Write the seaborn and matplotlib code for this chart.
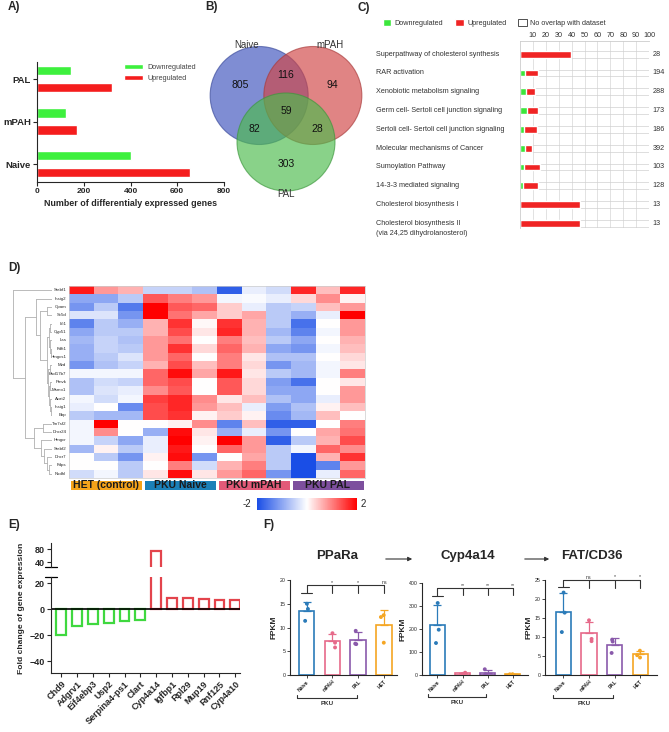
import numpy as np
import pandas as pd
import matplotlib
matplotlib.use("Agg")
import matplotlib.pyplot as plt
import seaborn as sns
from matplotlib import transforms
from matplotlib.colors import LinearSegmentedColormap, ListedColormap
from matplotlib.patches import Patch, Circle, FancyArrowPatch

W, H = 669, 732

# ---- A) number of DEGs ----
deg_groups = ["PAL", "mPAH", "Naive"]
deg_down = [146, 124, 402]
deg_up = [321, 169, 655]

# ---- B) venn ----
venn_sets = ["Naive", "mPAH", "PAL"]
venn_only = [805, 94, 303]
venn_pair_names = ["Naive&mPAH", "Naive&PAL", "mPAH&PAL"]
venn_pairs = [116, 82, 28]
venn_all = 59

# ---- C) IPA pathways ----
pathways = [
    "Superpathway of cholesterol synthesis",
    "RAR activation",
    "Xenobiotic metabolism signaling",
    "Germ cell- Sertoli cell junction signaling",
    "Sertoli cell- Sertoli cell junction signaling",
    "Molecular mechanisms of Cancer",
    "Sumoylation Pathway",
    "14-3-3 mediated signaling",
    "Cholesterol biosynthesis I",
    "Cholesterol biosynthesis II\n(via 24,25 dihydrolanosterol)",
]
path_down = [0, 4.1, 4.7, 5.2, 2.8, 3.9, 3.1, 2.3, 0, 0]
path_up = [39.5, 9.9, 6.9, 8.5, 10.4, 5.4, 12.4, 11.7, 46.5, 46.5]
path_total = [28, 194, 288, 173, 186, 392, 103, 128, 13, 13]

# ---- D) heatmap ----
hm_genes = ["Srebf1", "Insig2", "Gpam", "Sc5d", "Idi1", "Cyp51", "Lss", "Fdft1",
            "Hmgcs1", "Mvd", "Hsd17b7", "Pmvk", "Msmo1", "Acat2", "Insig1", "Ebp",
            "Tm7sf2", "Dhcr24", "Hmgcr", "Srebf2", "Dhcr7", "Fdps", "Nsdhl"]
hm_samples = ["HET1", "HET2", "HET3", "Naive1", "Naive2", "Naive3",
              "mPAH1", "mPAH2", "mPAH3", "PAL1", "PAL2", "PAL3"]
hm_values = [
    [1.8, 0.8, 0.6, -0.5, -0.5, -0.7, -1.8, -0.2, -0.4, 1.7, 0.5, 1.7],
    [-1.0, -1.0, -0.6, 1.3, 1.0, 0.8, -0.1, -0.05, -0.2, 0.3, 0.9, 0.1],
    [-1.2, -0.6, -1.5, 2.0, 1.3, 1.2, 0.4, -0.2, -0.6, -0.5, 0.5, 0.8],
    [-0.3, -0.3, -1.2, 2.0, 1.1, 0.7, 0.4, 0.7, -0.6, -0.9, -0.2, 2.0],
    [-1.4, -0.6, -0.9, 0.6, 1.6, 0.05, 1.6, 0.6, -0.6, -1.6, 0.0, 0.8],
    [-1.0, -0.6, -0.6, 0.6, 1.4, 0.2, 1.7, 0.6, -0.8, -1.4, -0.1, 0.8],
    [-0.8, -0.5, -0.7, 0.8, 1.1, 0.0, 1.0, 0.5, -0.6, -1.0, 0.0, 0.6],
    [-0.9, -0.5, -0.6, 0.8, 1.6, 0.3, 1.2, 0.6, -1.0, -1.2, -0.1, 0.5],
    [-0.9, -0.6, -0.3, 0.8, 1.2, 0.0, 1.0, 0.2, -0.7, -0.7, 0.0, 0.3],
    [-1.2, -0.7, -0.5, 0.6, 1.4, 0.5, 1.0, 0.3, -1.2, -0.8, -0.1, 0.2],
    [-0.1, -0.1, -0.1, 1.2, 1.9, 0.7, 1.8, 0.2, -0.6, -0.8, -0.1, 1.0],
    [-0.7, -0.4, -0.5, 1.2, 1.4, 0.0, 1.3, 0.3, -1.1, -1.6, 0.0, 0.2],
    [-0.7, -0.3, -0.2, 0.9, 1.3, 0.0, 1.3, 0.3, -1.0, -1.0, 0.0, 0.8],
    [-0.1, -0.4, -0.1, 1.5, 1.7, 0.9, 0.2, 0.5, -0.7, -1.0, -0.2, 0.8],
    [-0.2, 0.0, -1.3, 1.4, 1.7, 0.8, 0.5, -0.2, -1.1, -0.7, 0.1, 0.5],
    [-0.6, -0.8, -0.8, 1.4, 1.6, 0.1, 0.4, 0.1, -1.3, -0.8, 0.5, 0.0],
    [-0.1, 2.0, 0.0, 0.0, 0.1, 0.9, -1.4, 0.5, -1.8, -1.8, 0.0, 1.0],
    [-0.1, 0.9, 0.0, -0.9, 1.9, 0.2, -0.9, -0.2, -1.2, 0.0, 0.7, 1.1],
    [-0.1, -0.5, -1.0, -0.2, 2.0, 0.1, 2.0, 0.8, -1.8, -0.6, 0.6, 1.4],
    [-0.8, 0.1, -0.6, -0.2, 1.8, 0.0, 1.2, 0.8, -0.6, -0.1, 1.2, 0.9],
    [0.0, -0.6, -1.2, 0.1, 1.9, -1.2, 0.0, 0.7, -0.6, -2.0, 0.6, 1.6],
    [0.0, 0.0, -0.6, 0.0, 1.0, -0.4, 0.6, 1.0, -0.6, -2.0, -1.4, 0.8],
    [-0.4, -0.1, -0.6, 0.2, 1.9, 0.2, 0.8, 1.2, -1.2, -2.0, -0.2, 1.2],
]
# dendrogram: (height, left, right), leaves are row indices
hm_upper = (0.42, 1, (0.30, (0.14, 2, 3),
                      (0.12, (0.08, (0.05, 4, 5), (0.05, 6, (0.03, 7, 8))),
                       (0.09, (0.06, 9, 10), (0.07, (0.04, 11, 12), (0.05, 13, (0.03, 14, 15)))))))
hm_lower = (0.45, (0.22, 16, 17), (0.28, 18, (0.2, 19, (0.12, 20, (0.08, 21, 22)))))
hm_tree = (1.0, 0, (0.68, hm_upper, hm_lower))
hm_group_labels = ["HET (control)", "PKU Naive", "PKU mPAH", "PKU PAL"]
hm_group_colors = ["#f5a31a", "#1b80b8", "#e35a78", "#7d4f9e"]

# ---- E) fold change ----
fc_genes = ["Chd9", "Adgrv1", "Eif4ebp3", "Usp2", "Serpina4-ps1", "Clart",
            "Cyp4a14", "Igfbp1", "Rpl29", "Mup19", "Rnf125", "Cyp4a10"]
fc_values = [-20, -13.1, -11.5, -10.8, -9.2, -8.5, 74.8, 9.0, 8.7, 8.1, 7.6, 7.6]

# ---- F) FPKM ----
f_groups = ["Naive", "mPAH", "PAL", "HET"]
f_colors = ["#2b7bb9", "#e66a8a", "#8a5aab", "#f5a623"]
ppara_fpkm = [[15.0, 13.9, 11.4], [8.8, 6.8, 5.8], [9.3, 6.5, 6.6], [12.6, 12.2, 6.8]]
cyp4a14_fpkm = [[313, 197, 139], [5, 8, 10], [2, 3, 25], [2, 3, 3]]
cd36_fpkm = [[21.7, 16.4, 11.3], [14.4, 8.9, 9.5], [9.3, 8.8, 5.8], [6.4, 5.2, 4.6]]
ppara_sig = ["*", "*", "ns"]
cyp4a14_sig = ["**", "**", "**"]
cd36_sig = ["ns", "*", "*"]

sns.set_theme(style="ticks")
plt.rcParams["font.family"] = ["Liberation Sans", "DejaVu Sans"]
plt.rcParams["axes.linewidth"] = 0.8

fig = plt.figure(figsize=(W / 100, H / 100), dpi=100)


def px_axes(left, top, right, bottom):
    return fig.add_axes([left / W, 1 - bottom / H, (right - left) / W, (bottom - top) / H])


def fig_text(x, y, s, **kw):
    fig.text(x / W, 1 - y / H, s, **kw)


# ================= A =================
axA = px_axes(37, 62, 224, 182)
dfA = pd.DataFrame({
    "group": deg_groups * 2,
    "kind": ["Downregulated"] * 3 + ["Upregulated"] * 3,
    "n": deg_down + deg_up,
})
sns.barplot(data=dfA, y="group", x="n", hue="kind", order=deg_groups, orient="h",
            palette={"Downregulated": "#3df03d", "Upregulated": "#f51d1d"},
            width=0.8, gap=0.45, saturation=1, ax=axA)
axA.set_xlim(0, 800)
axA.set_ylim(2.42, -0.4)
axA.set_xticks([0, 200, 400, 600, 800])
axA.set_xlabel("Number of differentialy expressed genes", fontsize=6.4, fontweight="bold", labelpad=3)
axA.set_ylabel("")
axA.tick_params(axis="x", labelsize=6, length=3, width=0.8, pad=1.5)
axA.tick_params(axis="y", labelsize=6.8, length=3, width=0.8, pad=1.5)
for t in axA.get_xticklabels() + axA.get_yticklabels():
    t.set_fontweight("bold")
sns.despine(ax=axA)
axA.legend(loc="upper left", bbox_to_anchor=(0.43, 1.04), frameon=False, fontsize=5.2,
           handlelength=2.6, handleheight=0.8, labelspacing=0.5, handletextpad=0.6,
           labelcolor="#444444")

# ================= B =================
axB = px_axes(200, 30, 372, 200)
axB.set_xlim(200, 372)
axB.set_ylim(200, 30)
axB.axis("off")
cx, cy, dist, rad = 286, 111, 31, 49
angles = np.deg2rad([150, 30, 270])
venn_face = ["#3d52bd", "#d04444", "#4cbc4c"]
venn_edge = ["#3a4a9a", "#a83a3a", "#3c963c"]
for a, fc, ec in zip(angles, venn_face, venn_edge):
    axB.add_patch(Circle((cx + dist * np.cos(a), cy - dist * np.sin(a)), rad,
                         facecolor=fc, edgecolor=ec, alpha=0.66, lw=0.8))
for a, v in zip(angles, venn_only):
    axB.text(cx + 53 * np.cos(a), cy - 53 * np.sin(a), str(v), ha="center", va="center",
             fontsize=7.5, color="#111111")
for a, v in zip(angles + np.pi, [venn_pairs[2], venn_pairs[1], venn_pairs[0]]):
    axB.text(cx + 36 * np.cos(a), cy - 36 * np.sin(a), str(v), ha="center", va="center",
             fontsize=7.5, color="#111111")
axB.text(cx, cy, str(venn_all), ha="center", va="center", fontsize=7.5, color="#111111")
axB.text(cx - 39, cy - 66, venn_sets[0], ha="center", va="center", fontsize=7, color="#333333")
axB.text(cx + 44, cy - 66, venn_sets[1], ha="center", va="center", fontsize=7, color="#333333")
axB.text(cx, cy + 83, venn_sets[2], ha="center", va="center", fontsize=7, color="#333333")

# ================= C =================
axC = px_axes(520, 41, 649, 228)
nC = len(pathways)
path_sum = [d + u for d, u in zip(path_down, path_up)]
path_rest = [100 - s for s in path_sum]
axC.set_axisbelow(True)
axC.grid(axis="x", color="#dddddd", lw=0.6)
axC.barh(range(nC), path_rest, left=path_sum, height=0.36, facecolor="none",
         edgecolor="#d0d0d0", lw=0.5)
sns.barplot(x=path_sum, y=list(range(nC)), orient="h", color="#f02424", width=0.36,
            saturation=1, ax=axC, native_scale=True)
sns.barplot(x=path_down, y=list(range(nC)), orient="h", color="#3ce63c", width=0.36,
            saturation=1, ax=axC, native_scale=True)
axC.set_xlim(0, 100)
axC.set_ylim(9.25, -0.7)
axC.xaxis.tick_top()
axC.set_xticks(range(10, 101, 10))
axC.set_yticks([])
axC.set_xlabel("")
axC.set_ylabel("")
axC.tick_params(axis="x", labelsize=5.2, length=0, pad=1.5, labelcolor="#333333")
for s in ["right", "bottom"]:
    axC.spines[s].set_visible(False)
for s in ["left", "top"]:
    axC.spines[s].set_color("#cccccc")
    axC.spines[s].set_linewidth(0.6)
labC = transforms.blended_transform_factory(fig.transFigure, axC.transData)
for i, (name, tot) in enumerate(zip(pathways, path_total)):
    for j, line in enumerate(name.split("\n")):
        axC.text(376 / W, i + j * 0.55, line, transform=labC, ha="left", va="center",
                 fontsize=5.2, color="#333333")
    axC.text(103, i, str(tot), ha="left", va="center", fontsize=5.2, color="#333333", clip_on=False)
fig.legend(handles=[Patch(facecolor="#3ce63c"), Patch(facecolor="#f02424"),
                    Patch(facecolor="white", edgecolor="#333333", lw=0.6)],
           labels=["Downregulated", "Upregulated", "No overlap with dataset"],
           loc="center left", bbox_to_anchor=(376 / W, 1 - 23 / H), ncol=3, frameon=False,
           fontsize=5.2, handlelength=1.2, handleheight=1.2, columnspacing=1.6,
           handletextpad=0.5, labelcolor="#333333")

# ================= D =================
axD = px_axes(69, 286, 365, 478)
dfD = pd.DataFrame(hm_values, index=hm_genes, columns=hm_samples)
hm_cmap = LinearSegmentedColormap.from_list("bwr_d", ["#1a4ee6", "#ffffff", "#ff0000"])
sns.heatmap(dfD, cmap=hm_cmap, vmin=-2, vmax=2, cbar=False, ax=axD,
            xticklabels=False, yticklabels=True)
axD.tick_params(axis="y", labelsize=3.2, length=0, pad=2, rotation=0)
for s in axD.spines.values():
    s.set_visible(True)
    s.set_color("#cccccc")
    s.set_linewidth(0.5)

axDen = px_axes(13, 286, 52, 478)


def draw_tree(node):
    if isinstance(node, int):
        return node + 0.5, 0.0
    h, left, right = node
    y1, h1 = draw_tree(left)
    y2, h2 = draw_tree(right)
    kw = dict(color="#b0b0b0", lw=0.6)
    axDen.plot([h1, h], [y1, y1], **kw)
    axDen.plot([h2, h], [y2, y2], **kw)
    axDen.plot([h, h], [y1, y2], **kw)
    return (y1 + y2) / 2, h


draw_tree(hm_tree)
axDen.set_xlim(1.0, 0)
axDen.set_ylim(len(hm_genes), 0)
axDen.axis("off")

axG = px_axes(69, 479, 365, 491)
sns.heatmap(np.array([[0, 1, 2, 3]]), cmap=ListedColormap(hm_group_colors), cbar=False,
            annot=np.array([hm_group_labels]), fmt="", xticklabels=False, yticklabels=False,
            linewidths=1, linecolor="white", ax=axG,
            annot_kws=dict(fontsize=7.5, fontweight="bold", color="#1a1a1a",
                           family=["Liberation Sans Narrow", "Liberation Sans", "DejaVu Sans"]))

cax = px_axes(257, 498, 357, 510)
cb = fig.colorbar(axD.collections[0], cax=cax, orientation="horizontal")
cb.set_ticks([])
cb.outline.set_visible(False)
fig_text(247, 504, "-2", ha="center", va="center", fontsize=7)
fig_text(363, 504, "2", ha="center", va="center", fontsize=7)

# ================= E =================
axE = px_axes(51, 577, 240, 673)
axE2 = px_axes(51, 543, 240, 567)
dfE = pd.DataFrame({"gene": fc_genes, "fc": fc_values,
                    "dir": ["down" if v < 0 else "up" for v in fc_values]})
for ax in (axE, axE2):
    sns.barplot(data=dfE, x="gene", y="fc", hue="dir", dodge=False, legend=False,
                palette={"down": "#3fd83f", "up": "#e3444c"}, fill=False, linewidth=1.6,
                width=0.62, errorbar=None, ax=ax)
    ax.set_xlim(-0.65, 11.3)
    ax.set_xlabel("")
    ax.set_ylabel("")
axE.set_ylim(-49, 25)
axE2.set_ylim(25, 100)
axE.axhline(0, color="black", lw=1.2)
axE.set_yticks([-40, -20, 0, 20])
axE2.set_yticks([40, 80])
axE2.set_xticks([])
sns.despine(ax=axE)
sns.despine(ax=axE2, bottom=True)
axE.tick_params(axis="x", labelsize=6.5, length=3, width=0.8, pad=1.5)
axE.tick_params(axis="y", labelsize=6.5, length=3, width=0.8, pad=1.5)
axE2.tick_params(axis="y", labelsize=6.5, length=3, width=0.8, pad=1.5)
for t in axE.get_xticklabels():
    t.set_rotation(45)
    t.set_ha("right")
    t.set_rotation_mode("anchor")
for t in axE.get_xticklabels() + axE.get_yticklabels() + axE2.get_yticklabels():
    t.set_fontweight("bold")
axE2.plot([-0.03, 0.03], [0, 0], transform=axE2.transAxes, color="black", lw=0.9, clip_on=False)
axE.plot([-0.03, 0.03], [1, 1], transform=axE.transAxes, color="black", lw=0.9, clip_on=False)
fig_text(22, 608, "Fold change of gene expression", rotation=90, ha="center", va="center",
         fontsize=6.1, fontweight="bold")

# ================= F =================
f_palette = dict(zip(f_groups, f_colors))


def fpkm_panel(ax, values, ylim, yticks, xlim, sig, bracket_y, cap_y, pku_y):
    df = pd.DataFrame({"group": np.repeat(f_groups, 3), "fpkm": np.concatenate(values)})
    sns.barplot(data=df, x="group", y="fpkm", hue="group", palette=f_palette, errorbar=None,
                fill=False, linewidth=1.2, width=0.6, legend=False, ax=ax)
    np.random.seed(3)
    sns.stripplot(data=df, x="group", y="fpkm", hue="group", palette=f_palette, jitter=0.13,
                  size=2.8, legend=False, ax=ax)
    stats = df.groupby("group", sort=False)["fpkm"].agg(["mean", "std"])
    for i, g in enumerate(f_groups):
        ax.errorbar(i, stats.loc[g, "mean"], yerr=[[0], [stats.loc[g, "std"]]],
                    color=f_palette[g], capsize=2.6, lw=0.9, capthick=0.9)
    ax.set_ylim(*ylim)
    ax.set_xlim(*xlim)
    ax.set_yticks(yticks)
    ax.set_xlabel("")
    ax.set_ylabel("FPKM", fontsize=6, fontweight="bold", labelpad=2)
    sns.despine(ax=ax)
    ax.tick_params(axis="y", labelsize=3.8, length=2, width=0.6, pad=1)
    ax.tick_params(axis="x", labelsize=3.6, length=2, width=0.6, pad=1)
    for t in ax.get_xticklabels():
        t.set_rotation(45)
        t.set_ha("right")
        t.set_rotation_mode("anchor")
        t.set_fontweight("bold")
    trans = transforms.blended_transform_factory(ax.transData, ax.transAxes)
    kw = dict(color="#333333", lw=0.8, transform=trans, clip_on=False)
    ax.plot([0, 3], [bracket_y, bracket_y], **kw)
    ax.plot([0, 0], [bracket_y, cap_y], **kw)
    ax.plot([-0.22, 0.22], [cap_y, cap_y], **kw)
    for i, s in enumerate(sig, start=1):
        ax.plot([i, i], [bracket_y, bracket_y - 0.08], **kw)
        ax.text(i, bracket_y + 0.005, s, ha="center", va="bottom", fontsize=3.8,
                color="#333333", transform=trans)
    ax.plot([-0.38, 1.95], [pku_y, pku_y], **kw)
    ax.plot([-0.38, -0.38], [pku_y, pku_y + 0.03], **kw)
    ax.plot([1.95, 1.95], [pku_y, pku_y + 0.03], **kw)
    ax.text(0.8, pku_y - 0.03, "PKU", ha="center", va="top", fontsize=4.5, fontweight="bold",
            color="#333333", transform=trans)


axF1 = px_axes(290, 580, 397, 675)
axF2 = px_axes(422, 583, 528, 675)
axF3 = px_axes(545, 580, 657, 675)
fpkm_panel(axF1, ppara_fpkm, (0, 20), [0, 5, 10, 15, 20], (-0.64, 3.5), ppara_sig, 0.945, 0.86, -0.24)
fpkm_panel(axF2, cyp4a14_fpkm, (0, 400), [0, 100, 200, 300, 400], (-0.61, 3.6), cyp4a14_sig, 0.945, 0.86, -0.24)
fpkm_panel(axF3, cd36_fpkm, (0, 25), [0, 5, 10, 15, 20, 25], (-0.71, 3.65), cd36_sig, 1.0, 0.93, -0.24)

for x, title in [(337, "PPaRa"), (468, "Cyp4a14"), (592, "FAT/CD36")]:
    fig_text(x, 556, title, ha="center", va="center", fontsize=9.5, fontweight="bold")
for x0, x1 in [(383, 415), (522, 552)]:
    fig.add_artist(FancyArrowPatch((x0 / W, 1 - 559 / H), (x1 / W, 1 - 559 / H),
                                   transform=fig.transFigure, arrowstyle="-|>",
                                   mutation_scale=6, lw=0.8, color="#333333"))

# panel letters
for x, y, lab in [(8, 7, "A)"), (205, 7, "B)"), (358, 8, "C)"), (8, 268, "D)"),
                  (8, 525, "E)"), (263, 525, "F)")]:
    fig_text(x, y, lab, ha="left", va="center", fontsize=8.5, fontweight="bold")

fig.savefig("out.png", dpi=100)
